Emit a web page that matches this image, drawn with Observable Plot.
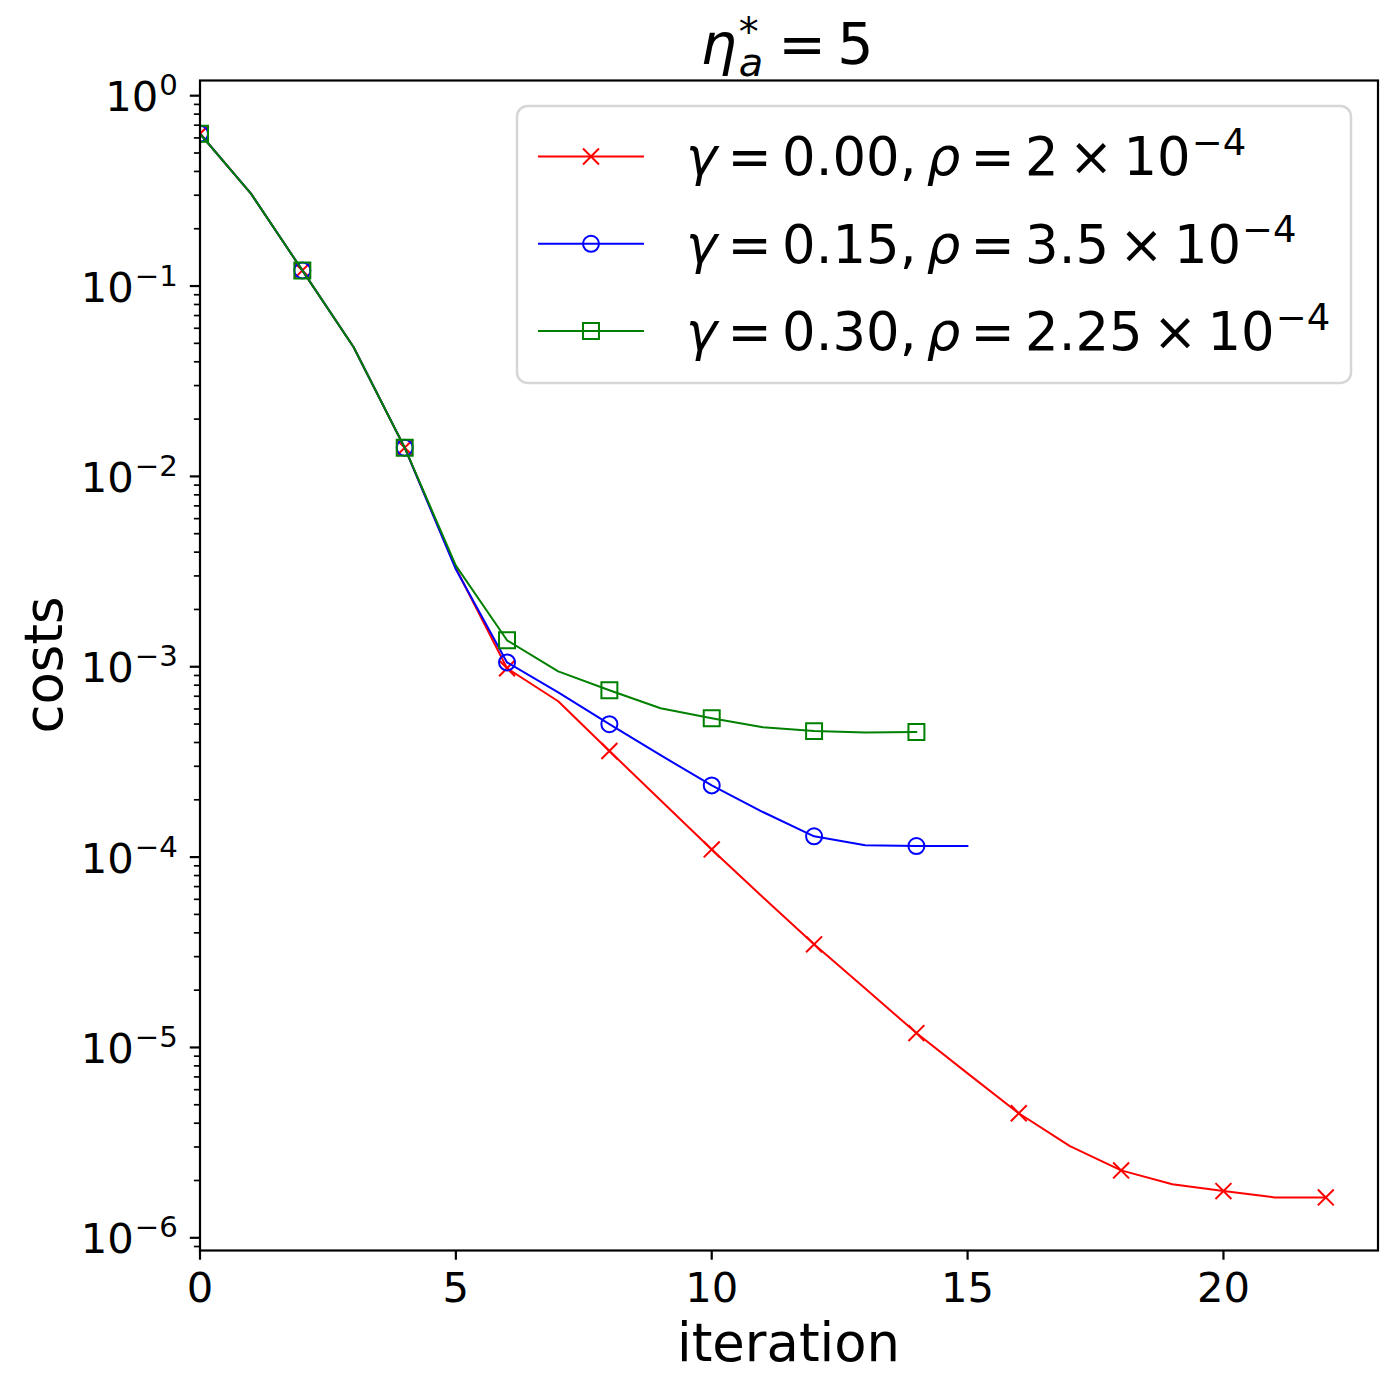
<!DOCTYPE html>
<html>
<head>
<meta charset="utf-8">
<script src="https://cdn.jsdelivr.net/npm/d3@7"></script>
<script src="https://cdn.jsdelivr.net/npm/@observablehq/plot@0.6"></script>
<style>
  html, body { margin: 0; padding: 0; background: #fff; }
  #chart svg { display: block; }
</style>
</head>
<body>
<div id="chart"></div>
<script>
// ---------------- data ----------------
const iterRed   = [0,1,2,3,4,5,6,7,8,9,10,11,12,13,14,15,16,17,18,19,20,21,22];
const costRed   = [0.631,0.305,0.1208,0.0478,0.01415,0.00329,0.000982,0.000659,0.000361,0.000199,
                   0.0001097,6.15e-5,3.48e-5,2.04e-5,1.19e-5,7.31e-6,4.51e-6,3.03e-6,2.26e-6,1.91e-6,
                   1.76e-6,1.63e-6,1.63e-6];
const iterBlue  = [0,1,2,3,4,5,6,7,8,9,10,11,12,13,14,15];
const costBlue  = [0.631,0.305,0.1208,0.0478,0.01415,0.00325,0.001054,0.000734,0.000499,0.000343,
                   0.000238,0.0001725,0.0001286,0.0001153,0.0001143,0.0001143];
const iterGreen = [0,1,2,3,4,5,6,7,8,9,10,11,12,13,14];
const costGreen = [0.631,0.305,0.1208,0.0478,0.01415,0.0034,0.001377,0.000946,0.000752,0.000605,
                   0.000536,0.000481,0.000459,0.000452,0.000454];

const gammaLabels = ["0.00", "0.15", "0.30"];
const rhoLabels   = ["2", "3.5", "2.25"];
const rhoExponent = "−4";
const seriesColors  = ["#ff0000", "#0000ff", "#008000"];
const seriesSymbols = ["times", "circle", "square"];

const xTicks = [0, 5, 10, 15, 20];
const yMajorTicks = [1, 1e-1, 1e-2, 1e-3, 1e-4, 1e-5, 1e-6];
const yMinorMultipliers = [2, 3, 4, 5, 6, 7, 8, 9];

const titleBase = "η", titleSup = "*", titleSub = "a", titleRest = "5";
const xLabel = "iteration";
const yLabel = "costs";

// ---------------- layout ----------------
const W = 1399, H = 1391;
const FS_TICK = 41.7, FS_BIG = 52.8, FS_TITLE = 57;
const yDomain = [Math.pow(10, -6.0667), Math.pow(10, 0.0798)];
const xDomain = [0, 23.02];

const seriesIters = [iterRed, iterBlue, iterGreen];
const seriesCosts = [costRed, costBlue, costGreen];
const markerR = {times: 7.3, circle: 8, square: 9.0};

const rows = seriesIters.flatMap((its, s) =>
  its.map((it, i) => ({series: s, iteration: it, cost: seriesCosts[s][i]})));

const yMinorTicks = [];
for (const major of yMajorTicks.concat([1e-7])) {
  for (const m of yMinorMultipliers) {
    const v = m * major;
    if (v > yDomain[0] && v < yDomain[1]) yMinorTicks.push(v);
  }
}

const seriesMarks = [0, 1, 2].flatMap(s => {
  const data = rows.filter(r => r.series === s);
  return [
    Plot.line(data, {x: "iteration", y: "cost", stroke: seriesColors[s], strokeWidth: 2, clip: true}),
    Plot.dot(data.filter(r => r.iteration % 2 === 0), {
      x: "iteration", y: "cost", symbol: seriesSymbols[s], r: markerR[seriesSymbols[s]],
      stroke: seriesColors[s], strokeWidth: 2, fill: "none", clip: true
    })
  ];
});

const chart = Plot.plot({
  width: W, height: H,
  marginLeft: 199.5, marginRight: 21.5, marginTop: 80, marginBottom: 141,
  style: {fontFamily: "DejaVu Sans", background: "white", color: "black", overflow: "visible"},
  x: {type: "linear", domain: xDomain},
  y: {type: "log", domain: yDomain},
  marks: [
    ...seriesMarks,
    Plot.axisX(xTicks, {tickSize: 9.7, tickPadding: 12, strokeWidth: 2.2, fontSize: FS_TICK,
                        tickFormat: d => String(d), label: null}),
    Plot.axisY(yMinorTicks, {tickSize: 5.6, strokeWidth: 1.7, tickFormat: () => "", label: null}),
    Plot.axisY(yMajorTicks, {tickSize: 9.7, tickPadding: 12.5, strokeWidth: 2.2, fontSize: FS_TICK,
                             tickFormat: d => String(Math.round(Math.log10(d))), label: null}),
    Plot.frame({stroke: "black", strokeWidth: 2.2})
  ]
});
document.getElementById("chart").appendChild(chart);

// ---------------- text post-processing ----------------
const NS = "http://www.w3.org/2000/svg";
const svg = d3.select(chart);

// y tick labels as 10^{k}
chart.querySelectorAll('g[aria-label="y-axis tick label"] text').forEach(t => {
  const e = t.textContent.trim();
  if (e === "") return;
  const k = +e;
  t.textContent = "";
  t.setAttribute("y", "15.5");
  t.removeAttribute("dy");
  const base = document.createElementNS(NS, "tspan");
  base.textContent = "10";
  t.appendChild(base);
  const sup = document.createElementNS(NS, "tspan");
  sup.textContent = (k < 0 ? "−" : "") + Math.abs(k);
  sup.setAttribute("font-size", (FS_TICK * 0.7).toFixed(2));
  sup.setAttribute("dy", "-16");
  sup.setAttribute("dx", "1");
  t.appendChild(sup);
});

// math-text helper: tokens -> tspans
function mathText(g, tokens, fs, x, y) {
  const sp = 0.195 * fs;
  const text = g.append("text").attr("x", x).attr("y", y).attr("text-anchor", "start")
    .attr("font-family", "DejaVu Sans").attr("font-size", fs).attr("fill", "black");
  let pending = 0;
  for (const tok of tokens) {
    if (tok.op) {
      pending += sp;
      text.append("tspan").attr("dx", pending).text(tok.op);
      pending = sp;
    } else if (tok.space) {
      pending += sp;
    } else if (tok.sup) {
      text.append("tspan").attr("dx", pending + 1).attr("dy", -0.38 * fs)
        .attr("font-size", fs * 0.7).text(tok.sup);
      pending = 0;
    } else {
      const ts = text.append("tspan").attr("dx", pending).text(tok.t);
      if (tok.it) ts.attr("font-style", "italic");
      pending = 0;
    }
  }
  return text;
}

// legend
const lg = svg.append("g").attr("class", "legend");
lg.append("rect").attr("x", 517).attr("y", 106).attr("width", 834).attr("height", 277)
  .attr("rx", 10.6).attr("ry", 10.6)
  .attr("fill", "white").attr("fill-opacity", 0.8)
  .attr("stroke", "#cccccc").attr("stroke-opacity", 0.8).attr("stroke-width", 2.5);
const symbolTypes = {times: d3.symbolTimes, circle: d3.symbolCircle, square: d3.symbolSquare};
for (let i = 0; i < 3; i++) {
  const ly = 156.5 + i * 87.3;
  lg.append("line").attr("x1", 538).attr("x2", 644).attr("y1", ly).attr("y2", ly)
    .attr("stroke", seriesColors[i]).attr("stroke-width", 2);
  const r = markerR[seriesSymbols[i]];
  lg.append("path")
    .attr("d", d3.symbol(symbolTypes[seriesSymbols[i]], Math.PI * r * r)())
    .attr("transform", `translate(591,${ly})`)
    .attr("fill", "none").attr("stroke", seriesColors[i]).attr("stroke-width", 2);
  mathText(lg, [
    {t: "γ", it: true}, {op: "="}, {t: gammaLabels[i]}, {t: ","}, {space: true},
    {t: "ρ", it: true}, {op: "="}, {t: rhoLabels[i]}, {op: "×"}, {t: "10"}, {sup: rhoExponent}
  ], FS_BIG, 686, ly + 18.7);
}

// title  η*_a = 5
const tg = svg.append("g").attr("class", "title");
const title = tg.append("text").attr("x", 0).attr("y", 63.5).attr("text-anchor", "start")
  .attr("font-family", "DejaVu Sans").attr("font-size", FS_TITLE).attr("fill", "black");
title.append("tspan").attr("font-style", "italic").text(titleBase);
const supT = title.append("tspan").attr("font-size", FS_TITLE * 0.7).attr("dy", -0.32 * FS_TITLE).attr("dx", 2).text(titleSup);
const supW = supT.node().getComputedTextLength();
title.append("tspan").attr("font-size", FS_TITLE * 0.7).attr("font-style", "italic")
  .attr("dx", -supW).attr("dy", 0.32 * FS_TITLE + 0.22 * FS_TITLE).text(titleSub);
title.append("tspan").attr("dx", 0.195 * FS_TITLE + 4).attr("dy", -0.22 * FS_TITLE).text("=");
title.append("tspan").attr("dx", 0.195 * FS_TITLE).text(titleRest);
const tb = title.node().getBBox();
title.attr("x", 787 - tb.width / 2 - tb.x);

// axis labels
svg.append("text").attr("x", 788.5).attr("y", 1361).attr("text-anchor", "middle")
  .attr("font-family", "DejaVu Sans").attr("font-size", FS_BIG).attr("fill", "black").text(xLabel);
svg.append("text").attr("transform", "translate(62,665) rotate(-90)").attr("text-anchor", "middle")
  .attr("font-family", "DejaVu Sans").attr("font-size", FS_BIG).attr("fill", "black").text(yLabel);
</script>
</body>
</html>
